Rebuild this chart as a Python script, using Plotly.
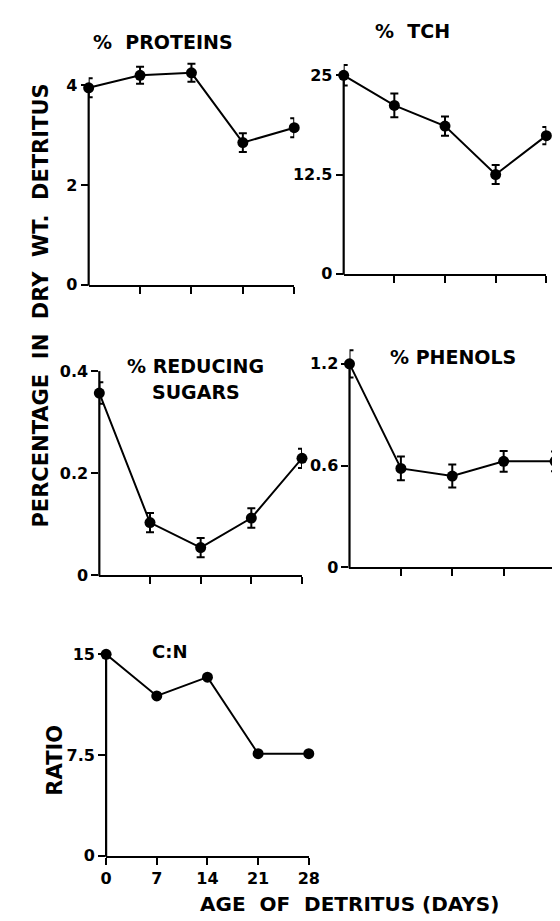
import plotly.graph_objects as go

# ---------------- data ----------------
days = [0, 7, 14, 21, 28]

proteins = [3.95, 4.2, 4.25, 2.85, 3.15]
proteins_err = [0.19, 0.17, 0.18, 0.19, 0.19]

tch = [25.0, 21.2, 18.6, 12.5, 17.4]
tch_err = [1.3, 1.5, 1.2, 1.2, 1.1]

sugars = [0.357, 0.103, 0.054, 0.112, 0.229]
sugars_err = [0.021, 0.019, 0.019, 0.019, 0.019]

phenols = [1.2, 0.583, 0.538, 0.625, 0.625]
phenols_err = [0.08, 0.07, 0.068, 0.061, 0.058]

cn_ratio = [15.0, 11.9, 13.3, 7.6, 7.6]

proteins_ticks = [0, 2, 4]
proteins_ticktext = ["0", "2", "4"]
tch_ticks = [0, 12.5, 25]
tch_ticktext = ["0", "12.5", "25"]
sugars_ticks = [0, 0.2, 0.4]
sugars_ticktext = ["0", "0.2", "0.4"]
phenols_ticks = [0, 0.6, 1.2]
phenols_ticktext = ["0", "0.6", "1.2"]
cn_ticks = [0, 7.5, 15]
cn_ticktext = ["0", "7.5", "15"]
day_ticks_plain = [7, 14, 21, 28]
day_ticks = [0, 7, 14, 21, 28]
day_ticktext = ["0", "7", "14", "21", "28"]

# ---------------- layout helpers ----------------
W, H = 560, 921
FONT = "DejaVu Sans"


def xdom(x0, x1):
    return [x0 / W, x1 / W]


def ydom(ybot, ytop):
    return [1 - ybot / H, 1 - ytop / H]


panels = [
    # (values, errors, yticks, yticktext, yrange, xpix, ypix)
    (proteins, proteins_err, proteins_ticks, proteins_ticktext, [0, 4.5], (77, 289), (279, 52)),
    (tch, tch_err, tch_ticks, tch_ticktext, [0, 27.5], (340, 549), (268, 47)),
    (sugars, sugars_err, sugars_ticks, sugars_ticktext, [0, 0.43], (88, 297), (573, 351)),
    (phenols, phenols_err, phenols_ticks, phenols_ticktext, [0, 1.3], (346, 558), (565, 342)),
    (cn_ratio, None, cn_ticks, cn_ticktext, [0, 15.6], (95, 304), (857, 645)),
]

fig = go.Figure()
layout = dict(
    width=W, height=H, autosize=False,
    margin=dict(l=0, r=0, t=0, b=0),
    paper_bgcolor="white", plot_bgcolor="white",
    showlegend=False,
    font=dict(family=FONT, color="black"),
)
shapes = []

for i, (vals, errs, ytv, ytt, yr, xp, yp) in enumerate(panels):
    n = i + 1
    xa = "x" if n == 1 else f"x{n}"
    ya = "y" if n == 1 else f"y{n}"
    tr = go.Scatter(
        x=days, y=vals, mode="lines+markers",
        line=dict(color="black", width=2),
        marker=dict(color="black", size=11),
        cliponaxis=False,
        xaxis=xa, yaxis=ya,
    )
    if errs is not None:
        tr.error_y = dict(type="data", array=errs, visible=True,
                          color="black", thickness=2, width=4)
    fig.add_trace(tr)

    last = (n == 5)
    xd = xdom(*xp)
    yd = ydom(*yp)
    layout[f"xaxis{n if n > 1 else ''}"] = dict(
        domain=xd, anchor=ya, range=[0, 28],
        showline=True, linecolor="black", linewidth=2,
        showgrid=False, zeroline=False,
        ticks="outside", ticklen=7, tickwidth=2, tickcolor="black",
        tickvals=day_ticks if last else day_ticks_plain,
        ticktext=day_ticktext if last else None,
        showticklabels=last,
        tickfont=dict(family=FONT, size=16, color="black", weight="bold"),
    )
    layout[f"yaxis{n if n > 1 else ''}"] = dict(
        domain=yd, anchor=xa, range=yr,
        showline=False, showgrid=False, zeroline=False,
        ticks="outside", ticklen=7, tickwidth=2, tickcolor="black",
        tickvals=ytv, ticktext=ytt,
        tickfont=dict(family=FONT, size=16, color="black", weight="bold"),
    )
    # vertical axis line: from the bottom of the panel up to its top tick
    frac = (ytv[-1] - yr[0]) / (yr[1] - yr[0])
    shapes.append(dict(type="line", xref="paper", yref="paper",
                       x0=xd[0], x1=xd[0],
                       y0=yd[0] - 1.0 / H, y1=yd[0] + frac * (yd[1] - yd[0]),
                       line=dict(color="black", width=2.2)))

layout["shapes"] = shapes


def ann(text, x, y, size=19, angle=0, xanchor="center"):
    return dict(text=text, x=x / W, y=1 - y / H, xref="paper", yref="paper",
                showarrow=False, textangle=angle, xanchor=xanchor, yanchor="middle",
                font=dict(family=FONT, size=size, color="black", weight="bold"))


layout["annotations"] = [
    ann("%  PROTEINS", 154, 33),
    ann("%  TCH", 411, 22),
    ann("% REDUCING", 187, 361),
    ann("SUGARS", 188, 388),
    ann("% PHENOLS", 453, 352),
    ann("C:N", 160, 650, size=18),
    ann("PERCENTAGE  IN  DRY  WT.  DETRITUS", 28, 300, size=21, angle=-90),
    ann("RATIO", 42, 760, size=21, angle=-90),
    ann("AGE  OF  DETRITUS (DAYS)", 346, 906, size=20),
]

fig.update_layout(**layout)
fig.write_html("out.html")
